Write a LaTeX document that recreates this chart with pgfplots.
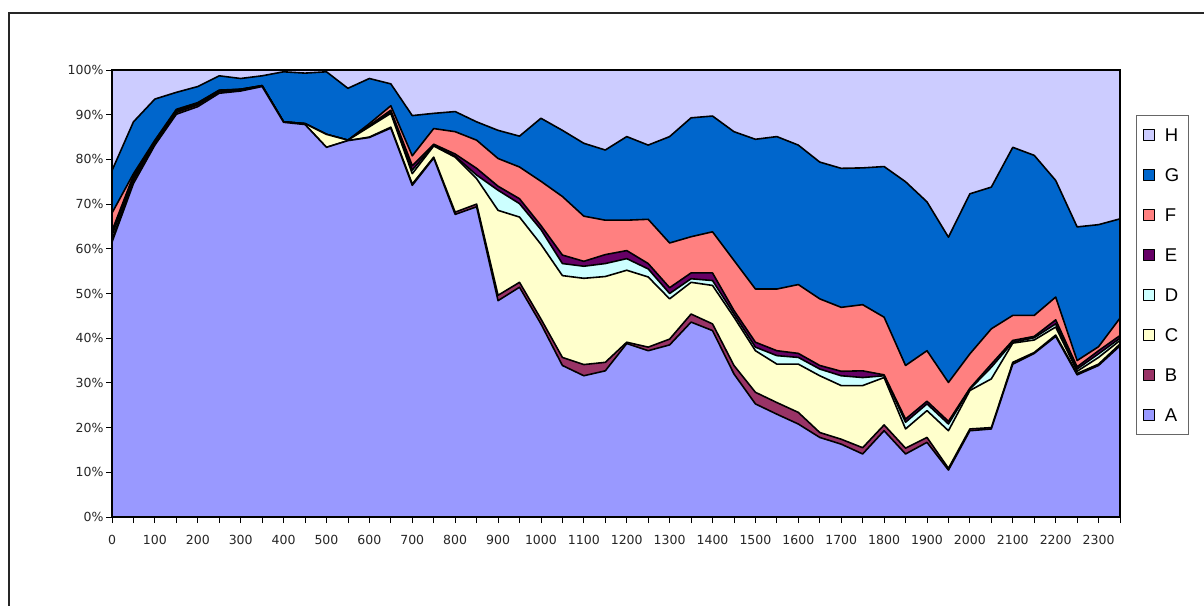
\documentclass[border=0pt]{standalone}
\usepackage{pgfplots}
\usepackage{pgfplotstable}
\pgfplotsset{compat=1.18}
\usepackage{fontspec}
\setmainfont{Liberation Sans}
\newfontfamily\tickfont{DejaVu Sans}
\definecolor{cA}{HTML}{9999FF}
\definecolor{cB}{HTML}{993366}
\definecolor{cC}{HTML}{FFFFCC}
\definecolor{cD}{HTML}{CCFFFF}
\definecolor{cE}{HTML}{660066}
\definecolor{cF}{HTML}{FF8080}
\definecolor{cG}{HTML}{0066CC}
\definecolor{cH}{HTML}{CCCCFF}
% cumulative tops (percent) of each layer
\pgfplotstableread{
x A B C D E F G H
0 61.5 62.0 63.0 63.5 64.0 68.0 77.5 100
50 74.6 75.3 75.8 76.0 76.4 76.8 88.4 100
100 83.2 83.6 83.9 84.0 84.1 84.3 93.5 100
150 90.1 90.5 90.8 90.9 91.0 91.2 95.0 100
200 91.8 92.2 92.4 92.5 92.6 92.7 96.3 100
250 94.8 95.1 95.3 95.4 95.4 95.5 98.7 100
300 95.3 95.5 95.6 95.6 95.7 95.7 98.1 100
350 96.3 96.4 96.4 96.5 96.5 96.5 98.7 100
400 88.3 88.3 88.4 88.4 88.4 88.4 99.6 100
450 87.8 87.8 88.0 88.0 88.0 88.0 99.3 100
500 82.7 82.7 85.6 85.6 85.6 85.6 99.6 100
550 84.2 84.2 84.3 84.3 84.3 84.3 95.9 100
600 84.9 85.0 87.3 87.4 87.6 88.0 98.1 100
650 87.0 87.2 90.3 90.6 91.0 92.0 96.9 100
700 74.2 74.5 76.8 77.6 78.6 80.8 89.8 100
750 80.3 80.5 83.0 83.2 83.4 86.9 90.3 100
800 67.7 68.2 80.5 80.7 81.2 86.2 90.7 100
850 69.4 70.0 75.7 76.5 78.0 84.3 88.4 100
900 48.4 49.6 68.6 73.1 74.0 80.2 86.5 100
950 51.4 52.5 67.1 70.1 71.2 78.3 85.2 100
1000 43.2 44.3 61.0 64.3 65.2 75.1 89.2 100
1050 33.9 35.7 54.0 56.7 58.6 71.7 86.5 100
1100 31.6 34.1 53.4 56.1 57.2 67.3 83.6 100
1150 32.7 34.6 53.8 56.7 58.7 66.4 82.1 100
1200 38.8 39.1 55.2 57.8 59.6 66.4 85.1 100
1250 37.2 38.0 53.7 55.5 56.7 66.6 83.2 100
1300 38.5 39.8 48.8 50.0 51.3 61.3 85.1 100
1350 43.6 45.4 52.5 53.3 54.6 62.7 89.3 100
1400 41.7 43.2 51.8 52.9 54.6 63.8 89.7 100
1450 32.0 33.9 44.7 45.4 46.2 57.4 86.2 100
1500 25.3 27.9 37.2 38.0 39.1 51.0 84.5 100
1550 23.0 25.6 34.2 36.1 37.2 51.0 85.1 100
1600 20.8 23.4 34.2 35.7 36.6 52.0 83.2 100
1650 17.8 18.9 31.6 33.1 33.9 48.8 79.4 100
1700 16.3 17.4 29.4 31.6 32.6 46.9 78.0 100
1750 14.1 15.5 29.4 31.2 32.7 47.5 78.1 100
1800 19.3 20.6 31.2 31.6 31.8 44.7 78.4 100
1850 14.1 15.4 19.7 21.2 21.9 33.9 75.0 100
1900 16.7 17.8 23.8 25.3 25.9 37.2 70.5 100
1950 10.5 10.9 19.3 20.8 21.4 30.1 62.6 100
2000 19.3 19.7 28.3 28.6 28.8 36.5 72.3 100
2050 19.7 20.0 30.9 33.5 34.2 42.1 73.8 100
2100 34.2 34.6 38.9 39.1 39.5 45.1 82.7 100
2150 36.6 36.8 39.6 40.1 40.4 45.1 80.9 100
2200 40.4 40.7 42.5 43.2 44.1 49.2 75.3 100
2250 31.8 32.1 32.6 33.1 33.6 35.0 64.9 100
2300 33.9 34.2 35.7 36.5 37.2 38.1 65.4 100
2350 38.3 38.7 39.5 40.0 40.6 44.5 66.7 100
}\data
\begin{document}
\begin{tikzpicture}[x=1pt,y=1pt]
\useasboundingbox (0,0) rectangle (1204,605);
\draw[line width=2pt, black!85] (9,-5) -- (9,592) -- (1215,592);
\begin{axis}[
  at={(112pt,88pt)}, anchor=south west,
  scale only axis, width=1008pt, height=447pt,
  xmin=0, xmax=2350, ymin=0, ymax=100,
  xtick={0,100,...,2300}, minor xtick={50,150,...,2350},
  ytick={0,10,...,100},
  yticklabel={\pgfmathprintnumber{\tick}\%},
  xtick pos=bottom, ytick pos=left,
  tick align=outside, major tick length=6pt, minor tick length=6pt,
  tick style={black, line width=0.8pt},
  ticklabel style={font=\tickfont\fontsize{12.5}{14}\selectfont, text=black!85},
  xticklabel style={yshift=-9pt},
  yticklabel style={xshift=1pt},
  /pgf/number format/assume math mode=true,
  /pgf/number format/1000 sep={},
  axis line style={black, line width=1.2pt},
  axis on top,
  every axis plot/.append style={draw=black, line width=1.6pt, line join=round},
  legend style={at={(1.0159,0.899)}, anchor=north west,
    draw=gray!80!black, line width=0.6pt,
    font=\fontsize{18.5}{20}\selectfont,
    inner xsep=7pt, inner ysep=13pt, row sep=27pt,
    nodes={text height=13pt, text depth=0pt, inner ysep=0pt, inner xsep=2pt}},
  legend cell align=left,
  legend image code/.code={\draw[#1, draw=black, line width=0.9pt] (0pt,-6pt) rectangle (11pt,5pt); \path[draw=none, fill=none] (0pt,0pt) -- (19pt,0pt);},
]
\addplot[fill=cH] table[x=x,y=H]{\data} \closedcycle; \addlegendentry{H}
\addplot[fill=cG] table[x=x,y=G]{\data} \closedcycle; \addlegendentry{G}
\addplot[fill=cF] table[x=x,y=F]{\data} \closedcycle; \addlegendentry{F}
\addplot[fill=cE] table[x=x,y=E]{\data} \closedcycle; \addlegendentry{E}
\addplot[fill=cD] table[x=x,y=D]{\data} \closedcycle; \addlegendentry{D}
\addplot[fill=cC] table[x=x,y=C]{\data} \closedcycle; \addlegendentry{C}
\addplot[fill=cB] table[x=x,y=B]{\data} \closedcycle; \addlegendentry{B}
\addplot[fill=cA] table[x=x,y=A]{\data} \closedcycle; \addlegendentry{A}
\end{axis}
\end{tikzpicture}
\end{document}
